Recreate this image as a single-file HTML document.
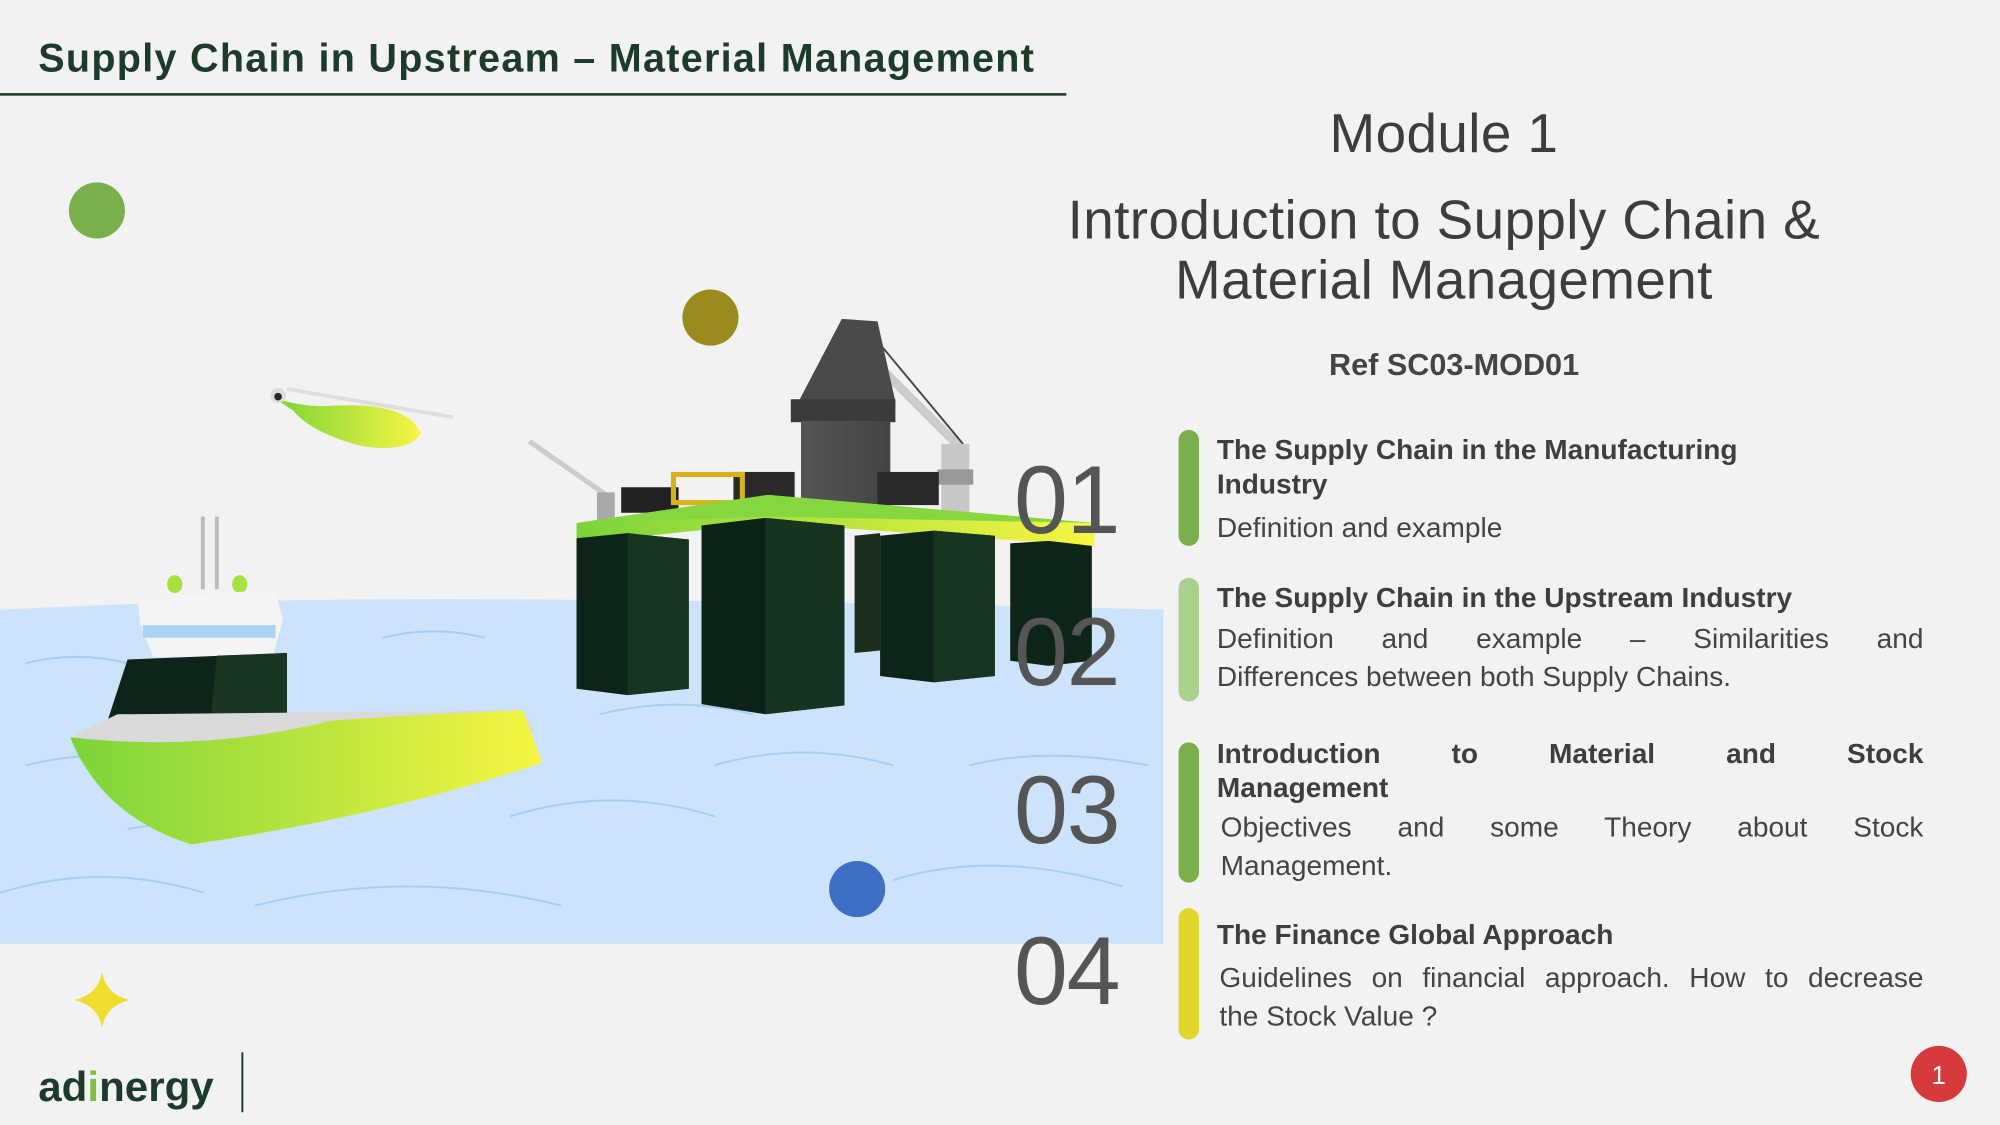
<!DOCTYPE html>
<html><head><meta charset="utf-8">
<style>
html,body{margin:0;padding:0;background:#f2f2f2;}
#wrap{position:relative;width:1568px;height:882px;transform:scale(1.27551);transform-origin:0 0;overflow:hidden;background:#f2f2f2;font-family:"Liberation Sans",sans-serif;}
.abs{position:absolute;}
.title{left:30px;top:28px;font-size:31px;font-weight:bold;color:#1d3b2a;letter-spacing:1px;white-space:nowrap;}
.uline{left:0;top:73px;width:836px;height:1.5px;background:#1d3b2a;}
.mod{left:760px;width:744px;text-align:center;color:#3d3d3d;font-size:43px;line-height:47px;letter-spacing:0.3px;}
.num{left:795px;font-size:76px;color:#555;line-height:1;letter-spacing:-1px;}
.bar{left:924px;width:16px;border-radius:8px;}
.item{left:954px;width:554px;color:#444;}
.h{font-size:22px;font-weight:bold;line-height:27px;color:#3e3e3e;white-space:nowrap;}
.b{font-size:22px;line-height:30px;white-space:nowrap;}
.j{text-align:justify;text-align-last:justify;white-space:normal;}
</style></head><body>
<div id="wrap">
<div class="abs title">Supply Chain in Upstream – Material Management</div>
<div class="abs uline"></div>

<svg class="abs" style="left:0;top:0" width="1568" height="882" viewBox="0 0 1568 882">
<defs>
<linearGradient id="gy" x1="0" x2="1" y1="0" y2="0"><stop offset="0" stop-color="#7bd43a"/><stop offset="1" stop-color="#f7f542"/></linearGradient>
<linearGradient id="dk" x1="0" x2="1"><stop offset="0" stop-color="#555"/><stop offset="1" stop-color="#444"/></linearGradient>
</defs>
<path d="M0,478 Q200,468 420,470 Q700,472 912,478 L912,740 L0,740 Z" fill="#cce3fb"/>
<g fill="none" stroke="#a6cdf2" stroke-width="1.5">
<path d="M20,520 q40,-10 80,0"/><path d="M300,500 q40,-10 80,0"/><path d="M20,600 q60,-15 120,0"/>
<path d="M400,640 q80,-25 160,0"/><path d="M560,600 q70,-20 140,0"/><path d="M0,700 q80,-25 160,0"/>
<path d="M200,710 q120,-30 240,0"/><path d="M700,690 q80,-25 180,5"/><path d="M470,560 q60,-15 120,0"/>
<path d="M760,600 q60,-15 140,0"/><path d="M100,650 q40,-8 80,0"/>
</g>
<circle cx="76" cy="165" r="22" fill="#79b04b"/>
<circle cx="557" cy="249" r="22" fill="#9b8a1c"/>
<circle cx="672" cy="697" r="22" fill="#3d6fc4"/>
<line x1="415" y1="346" x2="478" y2="390" stroke="#ccc" stroke-width="4"/>
<rect x="468" y="386" width="14" height="24" fill="#aaa"/>
<line x1="672" y1="270" x2="752" y2="350" stroke="#ccc" stroke-width="7"/>
<line x1="690" y1="270" x2="755" y2="348" stroke="#444" stroke-width="1.5"/>
<rect x="738" y="348" width="22" height="60" fill="#c8c8c8"/>
<rect x="735" y="368" width="28" height="12" fill="#999"/>
<polygon points="626,315 660,250 688,252 702,315" fill="#4a4a4a"/>
<rect x="620" y="313" width="82" height="18" fill="#3b3b3b"/>
<rect x="628" y="330" width="70" height="72" fill="url(#dk)"/>
<rect x="487" y="382" width="45" height="20" fill="#222"/>
<rect x="575" y="370" width="48" height="22" fill="#2a2a2a"/>
<rect x="688" y="370" width="48" height="26" fill="#2a2a2a"/>
<rect x="528" y="372" width="54" height="22" fill="none" stroke="#d8b21c" stroke-width="4"/>
<polygon points="452,410 602,388 858,410 858,428 602,410 452,426" fill="url(#gy)"/>
<polygon points="452,410 602,388 858,410 602,405" fill="#86d640"/>
<polygon points="670,420 690,418 690,510 670,512" fill="#1a2e1d"/>
<polygon points="452,422 492,418 540,423 540,540 492,545 452,540" fill="#0f2418"/>
<polygon points="492,418 540,423 540,540 492,545" fill="#183522"/>
<polygon points="550,412 600,406 662,412 662,553 600,560 550,552" fill="#0d2216"/>
<polygon points="600,406 662,412 662,553 600,560" fill="#163420"/>
<polygon points="690,420 732,416 780,420 780,530 732,535 690,530" fill="#0f2418"/>
<polygon points="732,416 780,420 780,530 732,535" fill="#183522"/>
<polygon points="792,426 822,424 856,428 856,518 822,522 792,518" fill="#0f2418"/>
<line x1="225" y1="305" x2="355" y2="327" stroke="#ddd" stroke-width="3"/>
<path d="M215,312 Q240,320 262,318 Q320,315 330,340 Q320,355 285,350 Q245,340 230,322 Z" fill="url(#gy)"/>
<circle cx="218" cy="310" r="6" fill="#ddd"/><circle cx="218" cy="311" r="3" fill="#1a2e1d"/>
<line x1="159" y1="405" x2="159" y2="462" stroke="#bbb" stroke-width="3"/>
<line x1="170" y1="405" x2="170" y2="462" stroke="#bbb" stroke-width="3"/>
<ellipse cx="137" cy="458" rx="6" ry="7" fill="#a8e040"/>
<ellipse cx="188" cy="458" rx="6" ry="7" fill="#a8e040"/>
<polygon points="108,470 215,462 222,485 214,515 120,515 110,490" fill="#f4f4f4"/>
<rect x="112" y="490" width="104" height="10" fill="#a9d3f0"/>
<polygon points="84,566 100,517 225,512 225,566" fill="#0f2418"/>
<polygon points="170,514 225,512 225,566 165,566" fill="#1a3522"/>
<polygon points="55,578 92,560 410,557 420,575 300,578 120,585" fill="#d9d9d9"/>
<path d="M55,578 Q160,590 260,565 Q330,560 410,557 L425,598 Q300,640 150,662 Q80,640 55,578 Z" fill="url(#gy)"/>
<path d="M80,762 Q83,780 102,784 Q83,788 80,806 Q77,788 58,784 Q77,780 80,762 Z" fill="#f0dc2a"/>
<line x1="190" y1="825" x2="190" y2="872" stroke="#1d3b2a" stroke-width="1.5"/>
<circle cx="1520" cy="842" r="22" fill="#d63a3a"/>
<text x="1520" y="850" text-anchor="middle" font-family="Liberation Sans" font-size="20" fill="#fff">1</text>
</svg>

<div class="abs" style="left:30px;top:833px;font-size:33px;font-weight:bold;color:#1d3b2a;letter-spacing:0px;">ad<span style="color:#7bc043">i</span>nergy</div>

<div class="abs mod" style="top:82px;">Module 1</div>
<div class="abs mod" style="top:150px;">Introduction to Supply Chain &amp;<br>Material Management</div>
<div class="abs" style="left:960px;width:360px;text-align:center;top:273px;font-size:24px;font-weight:bold;color:#444;">Ref SC03-MOD01</div>

<div class="abs num" style="top:355px;">01</div>
<div class="abs num" style="top:474px;">02</div>
<div class="abs num" style="top:598px;">03</div>
<div class="abs num" style="top:724px;">04</div>

<div class="abs bar" style="top:337px;height:91px;background:#79b04b"></div>
<div class="abs bar" style="top:453px;height:97px;background:#a9d18e"></div>
<div class="abs bar" style="top:582px;height:110px;background:#79b04b"></div>
<div class="abs bar" style="top:712px;height:103px;background:#e0d62c"></div>

<div class="abs item" style="top:339px;">
<div class="h">The Supply Chain in the Manufacturing</div>
<div class="h">Industry</div>
<div class="b" style="margin-top:6px">Definition and example</div></div>

<div class="abs item" style="top:455px;">
<div class="h">The Supply Chain in the Upstream Industry</div>
<div class="b j" style="margin-top:4px">Definition and example – Similarities and</div>
<div class="b">Differences between both Supply Chains.</div></div>

<div class="abs item" style="top:577px;">
<div class="h j">Introduction to Material and Stock</div>
<div class="h">Management</div>
<div class="b j" style="margin-top:3px;margin-left:3px">Objectives and some Theory about Stock</div>
<div class="b" style="margin-left:3px">Management.</div></div>

<div class="abs item" style="top:719px;">
<div class="h">The Finance Global Approach</div>
<div class="b j" style="margin-top:6px;margin-left:2px">Guidelines on financial approach. How to decrease</div>
<div class="b" style="margin-left:2px">the Stock Value ?</div></div>
</div>
</body></html>
